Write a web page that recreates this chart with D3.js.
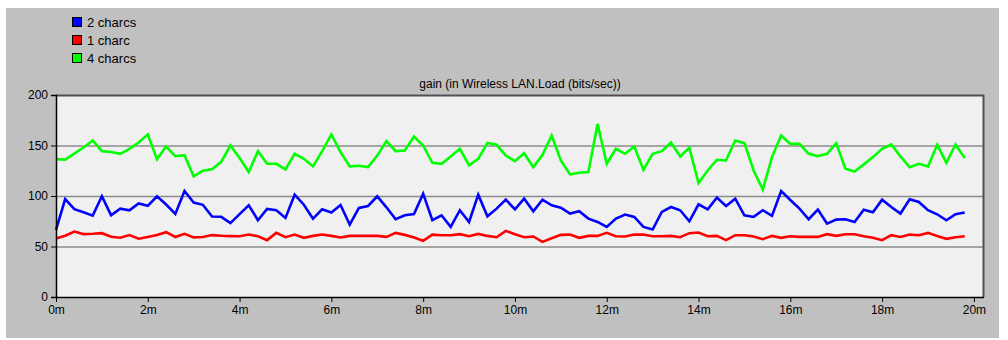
<!DOCTYPE html>
<html lang="en">
<head>
  <meta charset="UTF-8" />
  <title>gain (in Wireless LAN.Load (bits/sec))</title>
  <script src="https://d3js.org/d3.v7.min.js"></script>
  <style>
    html, body { margin: 0; padding: 0; background: #ffffff; }
    svg { display: block; font-family: "Liberation Sans", Arial, sans-serif; }
  </style>
</head>
<body>
  <div id="chart"></div>

  <script>
    // Series (one sample every 0.2 minute, 0m .. 19.8m)
    const seriesNames = ["2 charcs", "1 charc", "4 charcs"];
    const seriesColors = ["#0000ff", "#ff0000", "#00ff00"];
    const sampleStep = 0.2;

    const twoCharcs = [
      66.5, 97, 87, 84, 80.6, 99.7, 81, 87.4, 85.8, 92.6,
      90.3, 99.7, 91.6, 82.3, 105, 93.5, 91.3, 79.7, 79.4, 73.2,
      82, 90.8, 76, 87.2, 85.9, 78.3, 101.3, 91.4, 77.6, 86.8,
      83.6, 91.1, 71.7, 88.2, 90.1, 99.7, 88.8, 77, 80.9, 82.2,
      102.3, 76, 80.9, 69.4, 85.9, 74.3, 101.3, 79.9, 87.5, 96.4,
      86.8, 97.4, 84.9, 96.4, 90.8, 88.5, 82.6, 84.9, 77.6, 74.3,
      69.4, 77.6, 81.6, 79.3, 69.4, 66.8, 84.2, 89.1, 85.9, 75,
      91.8, 86.8, 98.4, 90.1, 97.4, 80.9, 79.3, 85.9, 80.3, 104.9,
      96, 87.5, 77, 86.5, 72.7, 76.6, 77, 74.3, 86.5, 83.9,
      96.4, 89.1, 82.6, 96.7, 94.1, 85.9, 81.9, 76, 81.9, 83.6
    ];

    const oneCharc = [
      58, 60.6, 64.8, 62.3, 62.6, 63.2, 59.7, 58.7, 61.3, 57.7,
      59.4, 61.3, 64.2, 59.4, 62.6, 59, 59.4, 61.3, 60.6, 60.3,
      60.2, 61.8, 60.2, 56.3, 63.5, 59.2, 61.8, 58.6, 60.5, 61.8,
      60.5, 58.9, 60.5, 60.5, 60.5, 60.5, 59.5, 63.5, 61.5, 58.9,
      55.6, 61.8, 61.2, 61.2, 62.2, 60.2, 62.5, 60.5, 59.2, 65.5,
      62.2, 59.2, 59.9, 54.6, 58.2, 61.5, 61.8, 58.6, 60.5, 60.5,
      63.5, 60.2, 59.9, 61.8, 61.8, 60.2, 60.2, 60.5, 59.2, 63.2,
      63.8, 60.2, 60.5, 56.3, 61.2, 61.2, 59.9, 57.2, 60.5, 58.6,
      60.2, 59.5, 59.5, 59.5, 62.2, 60.5, 62.2, 62.2, 60.2, 58.6,
      56.3, 61.2, 59.5, 61.8, 61.2, 63.5, 60.5, 57.6, 59.2, 60.2
    ];

    const fourCharcs = [
      136.5, 136, 142, 148, 155, 144.4, 143.5, 141.7, 146.7, 153,
      161, 136.4, 149, 139.4, 140.4, 119.5, 125, 126.5, 133.8, 150,
      137.7, 123.7, 144.4, 131.9, 131.9, 126.3, 141.8, 136.8, 129.3, 144.4,
      160.9, 143.4, 129.3, 130, 128.6, 140, 154.3, 144.4, 145, 158.9,
      150, 132.9, 131.9, 139.1, 146.7, 130.3, 136.8, 152.6, 150.7, 140.1,
      134.5, 142.4, 128.6, 140.8, 159.9, 135.2, 121.4, 123, 123.7, 171.4,
      131.9, 146.7, 141.8, 149, 126, 141.8, 144.4, 153, 139.1, 147.7,
      112.8, 125.3, 135.9, 135.2, 154.9, 152.3, 125.3, 106.3, 138.5, 159.9,
      151.6, 151.6, 141.8, 139.5, 141.8, 152.3, 127, 124.3, 131.3, 138.5,
      146.7, 151, 139.1, 128.6, 131.9, 129.3, 150.7, 132.9, 151, 137.5
    ];

    // Axes
    const yTicks = [0, 50, 100, 150, 200];
    const xTicks = [0, 2, 4, 6, 8, 10, 12, 14, 16, 18, 20];
    const title = "gain (in Wireless LAN.Load (bits/sec))";

    const width = 1008, height = 340;
    const plot = { left: 56, right: 984, top: 95, bottom: 297 };

    const svg = d3.select("#chart")
      .append("svg")
      .attr("width", width)
      .attr("height", height);

    // grey panel
    svg.append("rect")
      .attr("x", 6).attr("y", 8)
      .attr("width", 993).attr("height", 330)
      .attr("fill", "#c0c0c0");

    const x = d3.scaleLinear().domain([0, 20.22]).range([plot.left, plot.right]);
    const y = d3.scaleLinear().domain([0, 200]).range([plot.bottom, plot.top]);

    // plot background
    svg.append("rect")
      .attr("x", plot.left).attr("y", plot.top)
      .attr("width", plot.right - plot.left)
      .attr("height", plot.bottom - plot.top)
      .attr("fill", "#f0f0f0");

    // horizontal grid
    svg.append("g")
      .selectAll("line")
      .data(yTicks.filter(d => d > 0 && d < 200))
      .enter()
      .append("line")
      .attr("x1", plot.left).attr("x2", plot.right)
      .attr("y1", d => y(d) + 0.5).attr("y2", d => y(d) + 0.5)
      .attr("stroke", "#8c8c8c")
      .attr("stroke-width", 1.5);

    // top and right frame
    svg.append("path")
      .attr("d", `M${plot.left},${plot.top + 0.5}H${plot.right - 0.5}V${plot.bottom}`)
      .attr("fill", "none")
      .attr("stroke", "#505050")
      .attr("stroke-width", 2);

    // series lines
    const series = [twoCharcs, oneCharc, fourCharcs];
    const line = d3.line()
      .x((d, i) => x(i * sampleStep))
      .y(d => y(d));

    // draw red first, then blue, green on top
    [1, 0, 2].forEach(s => {
      svg.append("path")
        .datum(series[s])
        .attr("d", line)
        .attr("fill", "none")
        .attr("stroke", seriesColors[s])
        .attr("stroke-width", 2.6)
        .attr("stroke-linejoin", "miter");
    });

    // y axis
    const yAxis = svg.append("g")
      .attr("transform", `translate(${plot.left},0)`)
      .call(d3.axisLeft(y).tickValues(yTicks).tickSize(5).tickPadding(3));
    yAxis.select(".domain").attr("stroke", "#000").attr("stroke-width", 1.5);
    yAxis.selectAll(".tick line").attr("stroke", "#000");
    yAxis.selectAll("text")
      .attr("font-size", 12)
      .attr("fill", "#000")
      .attr("font-family", "Liberation Sans, Arial, sans-serif");

    // x axis
    const xAxis = svg.append("g")
      .attr("transform", `translate(0,${plot.bottom})`)
      .call(d3.axisBottom(x).tickValues(xTicks).tickSize(5).tickPadding(3)
        .tickFormat(d => d + "m"));
    xAxis.select(".domain").remove();
    xAxis.append("line")
      .attr("x1", plot.left).attr("x2", plot.right)
      .attr("y1", 0.5).attr("y2", 0.5)
      .attr("stroke", "#000").attr("stroke-width", 1.5);
    xAxis.selectAll(".tick line").attr("stroke", "#000");
    xAxis.selectAll("text")
      .attr("font-size", 12)
      .attr("fill", "#000")
      .attr("font-family", "Liberation Sans, Arial, sans-serif");

    // title
    svg.append("text")
      .attr("x", (plot.left + plot.right) / 2)
      .attr("y", 88)
      .attr("text-anchor", "middle")
      .attr("font-size", 12)
      .attr("fill", "#000")
      .text(title);

    // legend
    const legend = svg.append("g").attr("transform", "translate(72,17)");
    seriesNames.forEach((name, i) => {
      const item = legend.append("g").attr("transform", `translate(0,${i * 18})`);
      item.append("rect")
        .attr("x", 0.5).attr("y", 0.5)
        .attr("width", 9).attr("height", 9)
        .attr("fill", seriesColors[i])
        .attr("stroke", "#000");
      item.append("text")
        .attr("x", 15).attr("y", 9.5)
        .attr("font-size", 13)
        .attr("fill", "#000")
        .text(name);
    });
  </script>
</body>
</html>
